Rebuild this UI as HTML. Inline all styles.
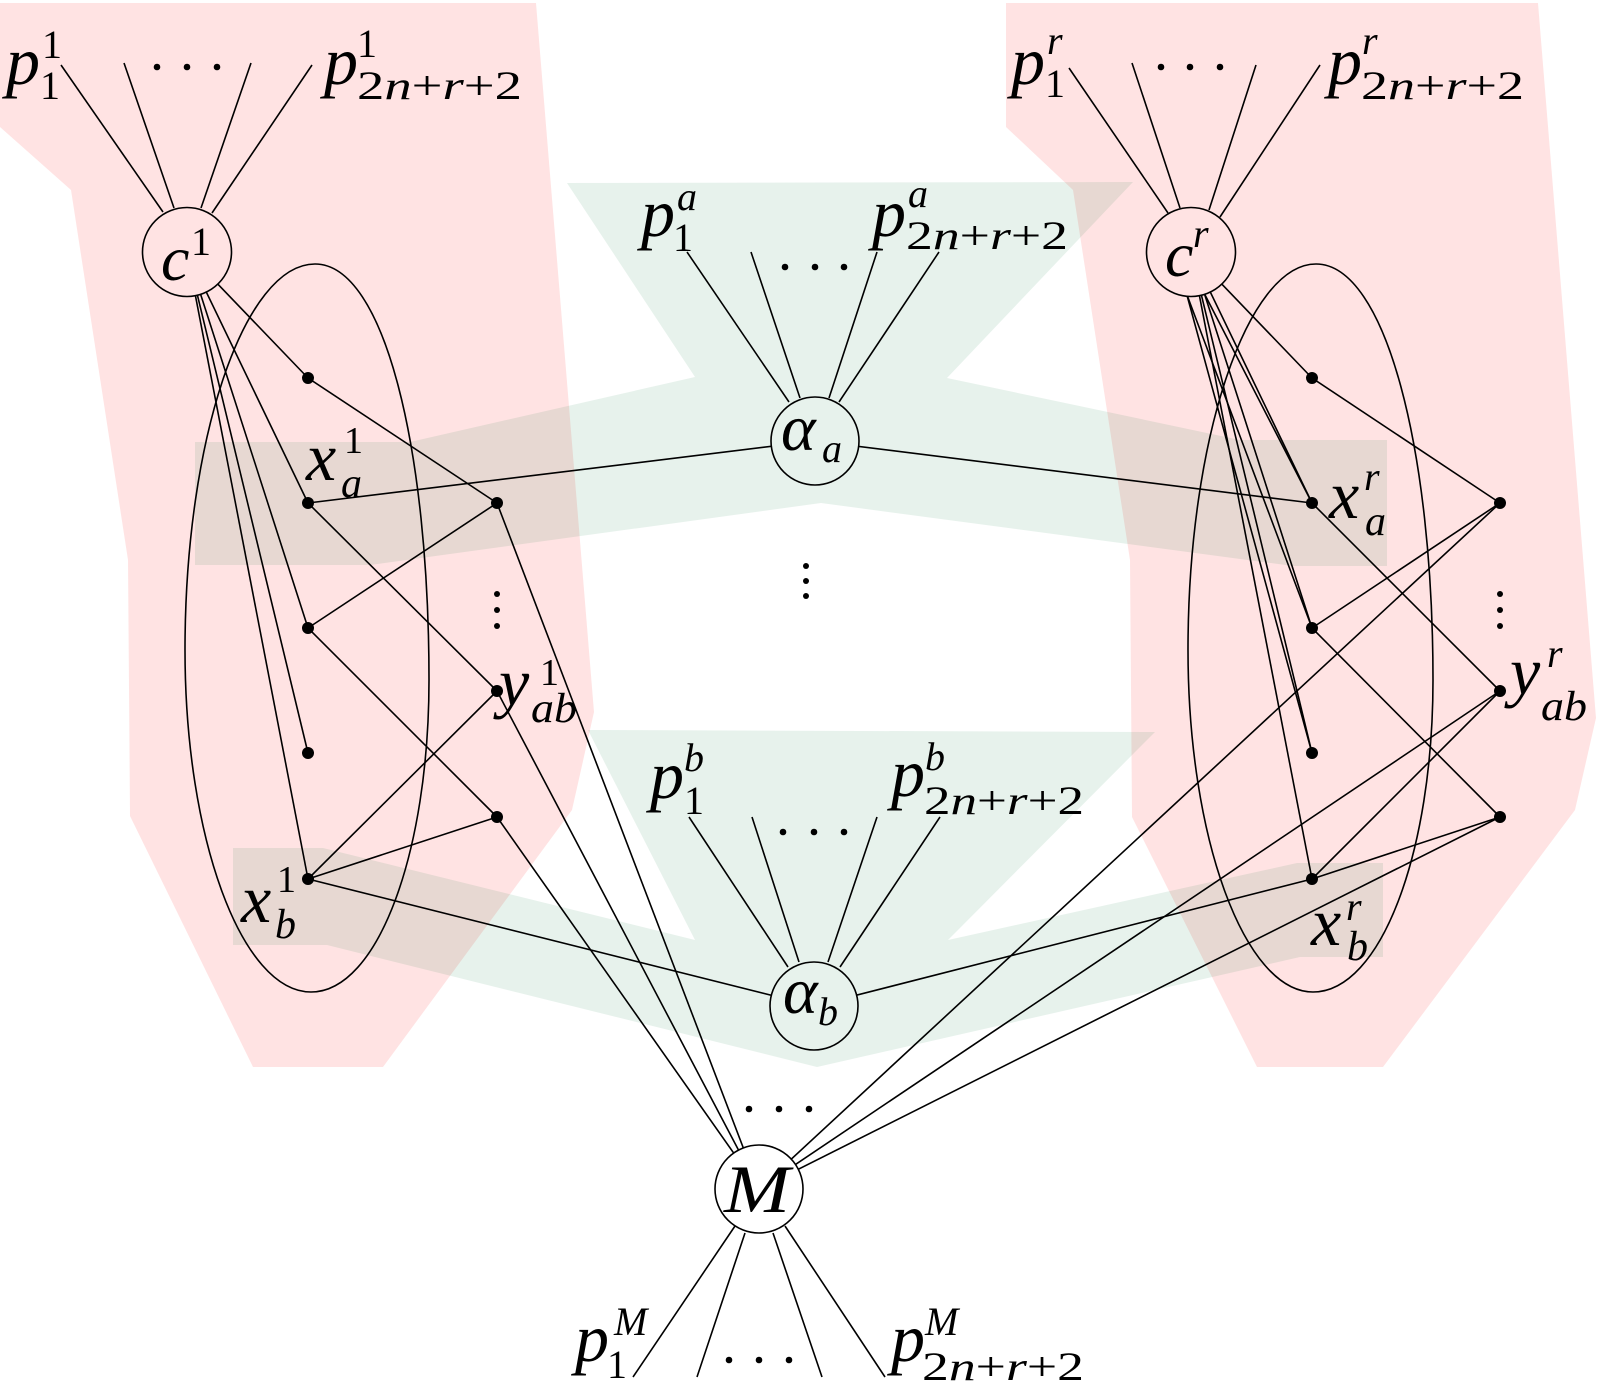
<!DOCTYPE html>
<html>
<head>
<meta charset="utf-8">
<style>
html,body{margin:0;padding:0;background:#fff;}
svg{display:block;}
.i{font-family:"Liberation Serif","DejaVu Serif",serif;font-style:italic;fill:#000;}
.n{font-family:"Liberation Serif","DejaVu Serif",serif;font-style:normal;fill:#000;}
</style>
</head>
<body>
<svg width="1600" height="1386" viewBox="0 0 1600 1386" xmlns="http://www.w3.org/2000/svg">
<rect x="0" y="0" width="1600" height="1386" fill="#fff"/>
<g fill="#ff0000" fill-opacity="0.11">
<polygon points="0,3 536,3 594,712 572,810 383,1067 253,1067 130,816 128,560 71,190 0,127"/>
<polygon points="1006,3 1538,3 1596,718 1575,810 1383,1067 1257,1067 1132,817 1130,560 1073,190 1006,127"/>
</g>
<g fill="#0f7d41" fill-opacity="0.1">
<polygon points="567,183 1133,182 947,378 1240,440 1387,440 1387,566 1293,566 821,503 370,565 195,565 195,442 410,442 695,377"/>
<polygon points="588,730 1155,732 948,940 1297,863 1383,863 1383,957 1300,957 817,1067 327,945 233,945 233,848 323,848 695,940"/>
</g>
<g fill="none" stroke="#000" stroke-width="1.6">
<path d="M315,264 C385,264 429,451 429,680 C429,852 378,992 311,992 C242,992 185,839 185,650 C185,437 245,264 315,264 Z"/>
<path d="M1316,264 C1386,264 1433,451 1433,680 C1433,852 1381,992 1313,992 C1245,992 1188,839 1188,650 C1188,437 1248,264 1316,264 Z"/>
</g>
<g stroke="#000" stroke-width="1.6" fill="none">
<line x1="61" y1="65" x2="163" y2="212"/>
<line x1="124" y1="63" x2="174" y2="208"/>
<line x1="251" y1="63" x2="201" y2="208"/>
<line x1="312" y1="65" x2="212" y2="213"/>
<line x1="1069" y1="68" x2="1168" y2="213"/>
<line x1="1132" y1="63" x2="1180" y2="208"/>
<line x1="1256" y1="65" x2="1209" y2="210"/>
<line x1="1320" y1="65" x2="1220" y2="217"/>
<line x1="687" y1="252" x2="789" y2="402"/>
<line x1="751" y1="252" x2="800" y2="398"/>
<line x1="877" y1="252" x2="829" y2="398"/>
<line x1="939" y1="252" x2="839" y2="402"/>
<line x1="689" y1="817" x2="788" y2="967"/>
<line x1="752" y1="817" x2="799" y2="962"/>
<line x1="877" y1="817" x2="828" y2="962"/>
<line x1="940" y1="817" x2="840" y2="967"/>
<line x1="735" y1="1226" x2="633" y2="1377"/>
<line x1="745" y1="1233" x2="697" y2="1377"/>
<line x1="773" y1="1233" x2="822" y2="1377"/>
<line x1="785" y1="1226" x2="885" y2="1377"/>
<line x1="187" y1="252" x2="308" y2="378"/>
<line x1="187" y1="252" x2="308" y2="503"/>
<line x1="187" y1="252" x2="308" y2="628"/>
<line x1="187" y1="252" x2="308" y2="753"/>
<line x1="187" y1="252" x2="308" y2="879"/>
<line x1="308" y1="378" x2="497" y2="503"/>
<line x1="308" y1="503" x2="497" y2="691"/>
<line x1="308" y1="628" x2="497" y2="503"/>
<line x1="308" y1="628" x2="497" y2="817"/>
<line x1="497" y1="691" x2="308" y2="879"/>
<line x1="497" y1="817" x2="308" y2="879"/>
<line x1="308" y1="503" x2="815" y2="441"/>
<line x1="308" y1="879" x2="814" y2="1006"/>
<line x1="497" y1="503" x2="759" y2="1189"/>
<line x1="497" y1="691" x2="759" y2="1189"/>
<line x1="497" y1="817" x2="759" y2="1189"/>
<line x1="1191" y1="252" x2="1312" y2="378"/>
<line x1="1191" y1="252" x2="1312" y2="503"/>
<line x1="1184" y1="254" x2="1312" y2="503"/>
<line x1="1191" y1="252" x2="1312" y2="628"/>
<line x1="1172" y1="255" x2="1312" y2="628"/>
<line x1="1191" y1="252" x2="1312" y2="753"/>
<line x1="1176" y1="255" x2="1312" y2="753"/>
<line x1="1191" y1="252" x2="1312" y2="879"/>
<line x1="1312" y1="378" x2="1500" y2="503"/>
<line x1="1312" y1="503" x2="1500" y2="691"/>
<line x1="1312" y1="628" x2="1500" y2="503"/>
<line x1="1312" y1="628" x2="1500" y2="817"/>
<line x1="1500" y1="691" x2="1312" y2="879"/>
<line x1="1500" y1="817" x2="1312" y2="879"/>
<line x1="815" y1="441" x2="1312" y2="503"/>
<line x1="814" y1="1006" x2="1312" y2="879"/>
<line x1="1500" y1="503" x2="759" y2="1189"/>
<line x1="1500" y1="691" x2="759" y2="1189"/>
<line x1="1500" y1="817" x2="759" y2="1189"/>
</g>
<g stroke="#000" stroke-width="1.6">
<circle cx="187" cy="252" r="44.5" fill="#ffe3e3"/>
<circle cx="1191" cy="252" r="44.5" fill="#ffe3e3"/>
<circle cx="815" cy="441" r="44" fill="#e7f2ec"/>
<circle cx="814" cy="1006" r="44" fill="#e7f2ec"/>
<circle cx="759" cy="1189" r="44" fill="#ffffff"/>
</g>
<g fill="#000">
<circle cx="308" cy="378" r="6"/>
<circle cx="308" cy="503" r="6"/>
<circle cx="308" cy="628" r="6"/>
<circle cx="308" cy="753" r="6"/>
<circle cx="308" cy="879" r="6"/>
<circle cx="497" cy="503" r="6"/>
<circle cx="497" cy="691" r="6"/>
<circle cx="497" cy="817" r="6"/>
<circle cx="1312" cy="378" r="6"/>
<circle cx="1312" cy="503" r="6"/>
<circle cx="1312" cy="628" r="6"/>
<circle cx="1312" cy="753" r="6"/>
<circle cx="1312" cy="879" r="6"/>
<circle cx="1500" cy="503" r="6"/>
<circle cx="1500" cy="691" r="6"/>
<circle cx="1500" cy="817" r="6"/>
</g>
<g fill="#000">
<circle cx="157" cy="67" r="3.3"/><circle cx="187" cy="67" r="3.3"/><circle cx="217" cy="67" r="3.3"/>
<circle cx="1161" cy="67" r="3.3"/><circle cx="1190" cy="67" r="3.3"/><circle cx="1220" cy="67" r="3.3"/>
<circle cx="785" cy="267" r="3.3"/><circle cx="815" cy="267" r="3.3"/><circle cx="844" cy="267" r="3.3"/>
<circle cx="783" cy="832" r="3.3"/><circle cx="814" cy="832" r="3.3"/><circle cx="844" cy="832" r="3.3"/>
<circle cx="749" cy="1109" r="3.3"/><circle cx="779" cy="1109" r="3.3"/><circle cx="809" cy="1109" r="3.3"/>
<circle cx="729" cy="1360" r="3.3"/><circle cx="759" cy="1360" r="3.3"/><circle cx="789" cy="1360" r="3.3"/>
<circle cx="497" cy="594" r="3"/><circle cx="497" cy="610" r="3"/><circle cx="497" cy="626" r="3"/>
<circle cx="1500" cy="594" r="3"/><circle cx="1500" cy="610" r="3"/><circle cx="1500" cy="626" r="3"/>
<circle cx="806" cy="566" r="3"/><circle cx="806" cy="581" r="3"/><circle cx="806" cy="596" r="3"/>
</g>
<text class="i" x="6" y="84" font-size="68">p</text>
<text class="n" x="42" y="58" font-size="40">1</text>
<text class="n" x="40" y="99" font-size="40">1</text>
<text class="i" x="324" y="84" font-size="68">p</text>
<text class="n" x="357" y="57" font-size="40">1</text>
<text class="n" x="357" y="99" font-size="40" textLength="165" lengthAdjust="spacingAndGlyphs">2<tspan class="i">n</tspan>+<tspan class="i">r</tspan>+2</text>
<text class="i" x="1011" y="84" font-size="68">p</text>
<text class="i" x="1047" y="54" font-size="40">r</text>
<text class="n" x="1045" y="97" font-size="40">1</text>
<text class="i" x="1328" y="84" font-size="68">p</text>
<text class="i" x="1362" y="54" font-size="40">r</text>
<text class="n" x="1361" y="99" font-size="40" textLength="163" lengthAdjust="spacingAndGlyphs">2<tspan class="i">n</tspan>+<tspan class="i">r</tspan>+2</text>
<text class="i" x="641" y="236" font-size="68">p</text>
<text class="i" x="677" y="210" font-size="40">a</text>
<text class="n" x="673" y="251" font-size="40">1</text>
<text class="i" x="872" y="236" font-size="68">p</text>
<text class="i" x="908" y="207" font-size="40">a</text>
<text class="n" x="906" y="249" font-size="40" textLength="162" lengthAdjust="spacingAndGlyphs">2<tspan class="i">n</tspan>+<tspan class="i">r</tspan>+2</text>
<text class="i" x="650" y="798" font-size="68">p</text>
<text class="i" x="684" y="771" font-size="40">b</text>
<text class="n" x="684" y="814" font-size="40">1</text>
<text class="i" x="891" y="796" font-size="68">p</text>
<text class="i" x="925" y="770" font-size="40">b</text>
<text class="n" x="924" y="814" font-size="40" textLength="160" lengthAdjust="spacingAndGlyphs">2<tspan class="i">n</tspan>+<tspan class="i">r</tspan>+2</text>
<text class="i" x="575" y="1361" font-size="68">p</text>
<text class="i" x="614" y="1335" font-size="40">M</text>
<text class="n" x="607" y="1378" font-size="40">1</text>
<text class="i" x="891" y="1361" font-size="68">p</text>
<text class="i" x="925" y="1335" font-size="40">M</text>
<text class="n" x="922" y="1380" font-size="40" textLength="162" lengthAdjust="spacingAndGlyphs">2<tspan class="i">n</tspan>+<tspan class="i">r</tspan>+2</text>
<text class="i" x="161" y="280" font-size="64">c</text>
<text class="n" x="191" y="255" font-size="40">1</text>
<text class="i" x="1165" y="276" font-size="64">c</text>
<text class="i" x="1193" y="247" font-size="40">r</text>
<text class="i" x="781" y="450" font-size="66">α</text>
<text class="i" x="822" y="462" font-size="40">a</text>
<text class="i" x="783" y="1013" font-size="66">α</text>
<text class="i" x="818" y="1025" font-size="40">b</text>
<text class="i" x="724" y="1212" font-size="68" textLength="66" lengthAdjust="spacingAndGlyphs">M</text>
<text class="i" x="306" y="480" font-size="68">x</text>
<text class="n" x="344" y="453" font-size="38">1</text>
<text class="i" x="341" y="497" font-size="42">a</text>
<text class="i" x="241" y="922" font-size="68">x</text>
<text class="n" x="277" y="892" font-size="38">1</text>
<text class="i" x="275" y="938" font-size="42">b</text>
<text class="i" x="499" y="705" font-size="68">y</text>
<text class="n" x="540" y="685" font-size="38">1</text>
<text class="i" x="531" y="722" font-size="42" textLength="46" lengthAdjust="spacingAndGlyphs">ab</text>
<text class="i" x="1329" y="518" font-size="68">x</text>
<text class="i" x="1364" y="490" font-size="40">r</text>
<text class="i" x="1365" y="535" font-size="42">a</text>
<text class="i" x="1510" y="694" font-size="68">y</text>
<text class="i" x="1547" y="667" font-size="40">r</text>
<text class="i" x="1541" y="720" font-size="42" textLength="46" lengthAdjust="spacingAndGlyphs">ab</text>
<text class="i" x="1311" y="945" font-size="68">x</text>
<text class="i" x="1346" y="920" font-size="40">r</text>
<text class="i" x="1347" y="960" font-size="42">b</text>
</svg>
</body>
</html>
